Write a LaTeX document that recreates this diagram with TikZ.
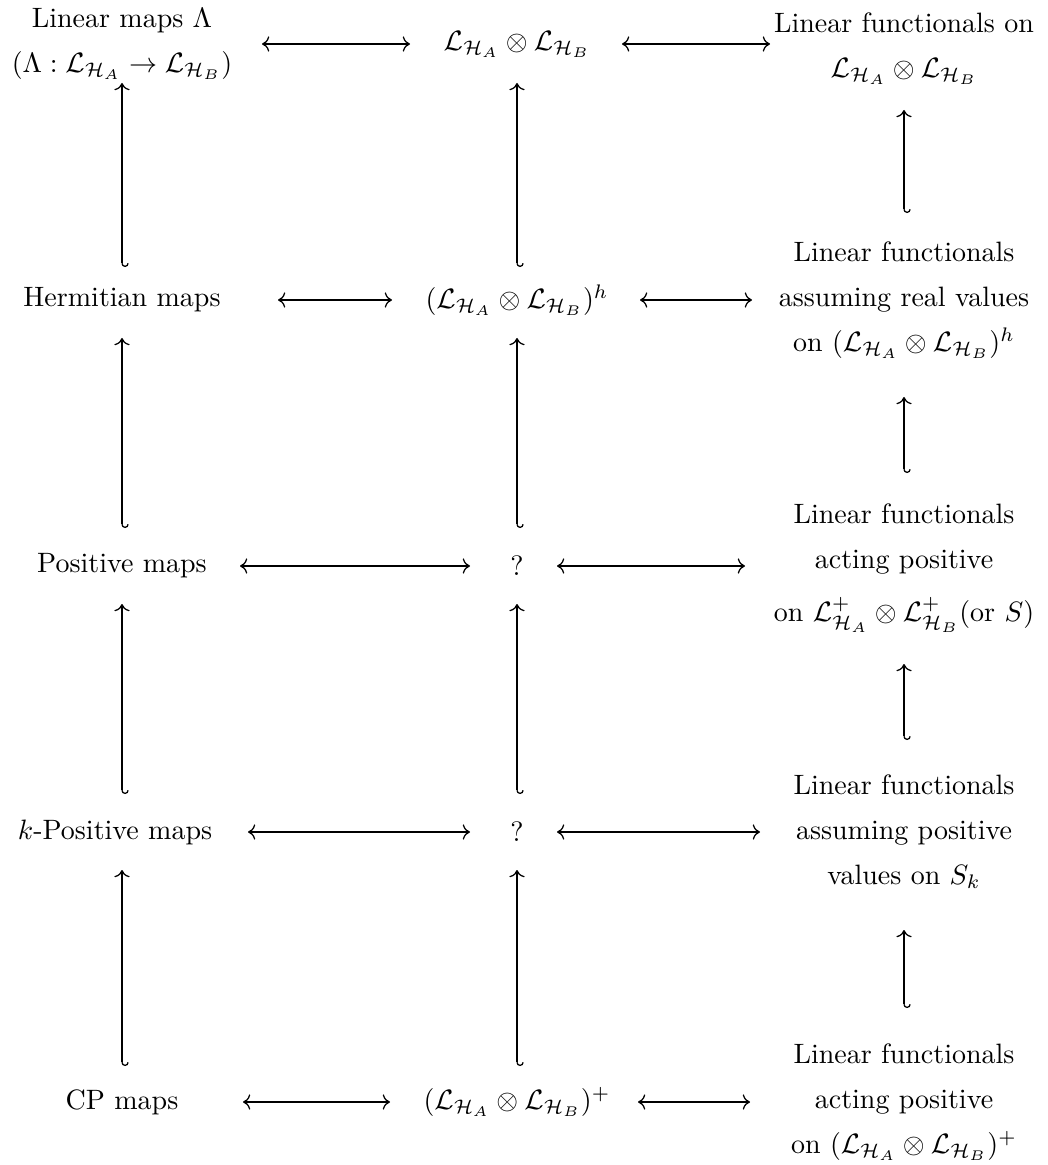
\documentclass[tikz,border=0pt]{standalone}
\usetikzlibrary{arrows.meta}
\def\px{0.357pt}
\begin{document}
\begin{tikzpicture}[x=\px, y=-\px,
  cell/.style={inner sep=0pt, align=center, font=\fontsize{10}{16}\selectfont},
  harr/.style={line width=0.45pt, {Computer Modern Rightarrow}-{Computer Modern Rightarrow}},
  varr/.style={line width=0.45pt, {Hooks[left]}-{Computer Modern Rightarrow}}]
\useasboundingbox (0,0) rectangle (1047,1165);
\def\LA{\mathcal{L}_{\mathcal{H}_A}}
\def\LB{\mathcal{L}_{\mathcal{H}_B}}
% left column
\node[cell] (l1) at (122,44) {Linear maps $\Lambda$\\ $(\Lambda:\LA\to\LB)$};
\node[cell] (l2) at (122,300) {Hermitian maps};
\node[cell] (l3) at (122,566) {Positive maps};
\node[cell] (l4) at (115,832) {$k$-Positive maps};
\node[cell] (l5) at (122,1102) {CP maps};
% middle column
\node[cell] (m1) at (517,44) {$\LA\otimes\LB$};
\node[cell] (m2) at (517,300) {$(\LA\otimes\LB)^h$};
\node[cell] (m3) at (517,566) {?};
\node[cell] (m4) at (517,832) {?};
\node[cell] (m5) at (517,1102) {$(\LA\otimes\LB)^+$};
% right column
\node[cell] (r1) at (904,49) {Linear functionals on\\ $\LA\otimes\LB$};
\node[cell] (r2) at (904,300) {Linear functionals\\ assuming real values\\ on $(\LA\otimes\LB)^h$};
\node[cell] (r3) at (904,568) {Linear functionals\\ acting positive\\[3pt] on $\mathcal{L}^+_{\mathcal{H}_A}\otimes\mathcal{L}^+_{\mathcal{H}_B}$(or $S$)};
\node[cell] (r4) at (904,832) {Linear functionals\\ assuming positive\\ values on $S_k$};
\node[cell] (r5) at (904,1102) {Linear functionals\\ acting positive\\ on $(\LA\otimes\LB)^+$};
% horizontal arrows
\draw[harr, shorten <=140*\px, shorten >=107*\px] (l1.center) -- (m1.center);
\draw[harr, shorten <=105*\px, shorten >=134*\px] (m1.center) -- (r1.center |- m1.center);
\draw[harr, shorten <=156*\px, shorten >=125*\px] (l2.center) -- (m2.center);
\draw[harr, shorten <=123*\px, shorten >=152*\px] (m2.center) -- (r2.center);
\draw[harr, shorten <=118*\px, shorten >=47*\px] (l3.center) -- (m3.center);
\draw[harr, shorten <=40*\px, shorten >=159*\px] (m3.center) -- (r3.center |- m3.center);
\draw[harr, shorten <=133*\px, shorten >=47*\px] (l4.center) -- (m4.center);
\draw[harr, shorten <=40*\px, shorten >=144*\px] (m4.center) -- (r4.center);
\draw[harr, shorten <=121*\px, shorten >=127*\px] (l5.center) -- (m5.center);
\draw[harr, shorten <=121*\px, shorten >=154*\px] (m5.center) -- (r5.center);
% vertical arrows, left and middle columns
\draw[varr, shorten <=33*\px, shorten >=39*\px] (l2.center) -- (l1.center);
\draw[varr, shorten <=33*\px, shorten >=39*\px] (m2.center) -- (m1.center);
\draw[varr, shorten <=38*\px, shorten >=38*\px] (l3.center) -- (l2.center);
\draw[varr, shorten <=38*\px, shorten >=38*\px] (m3.center) -- (m2.center);
\draw[varr, shorten <=38*\px, shorten >=38*\px] (l4.center -| l3.center) -- (l3.center);
\draw[varr, shorten <=38*\px, shorten >=38*\px] (m4.center) -- (m3.center);
\draw[varr, shorten <=36*\px, shorten >=38*\px] (l5.center) -- (l4.center -| l5.center);
\draw[varr, shorten <=36*\px, shorten >=38*\px] (m5.center) -- (m4.center);
% vertical arrows, right column
\draw[varr, shorten <=87*\px, shorten >=61*\px] (r2.center) -- (r1.center);
\draw[varr, shorten <=95*\px, shorten >=97*\px] (r3.center) -- (r2.center);
\draw[varr, shorten <=92*\px, shorten >=96*\px] (r4.center) -- (r3.center);
\draw[varr, shorten <=94*\px, shorten >=98*\px] (r5.center) -- (r4.center);
\end{tikzpicture}
\end{document}
